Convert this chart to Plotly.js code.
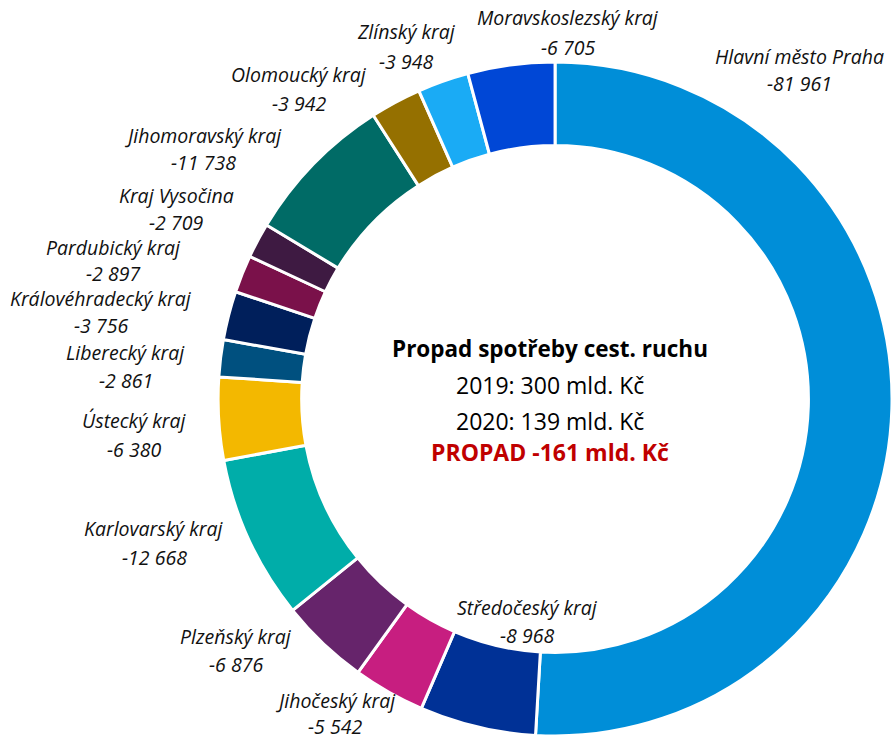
<!DOCTYPE html>
<html>
<head>
<meta charset="utf-8">
<script src="https://cdn.plot.ly/plotly-3.0.1.min.js"></script>
<style>html,body{margin:0;padding:0;background:#fff;}#chart{width:892px;height:740px;}</style>
</head>
<body>
<div id="chart"></div>
<script>
// Data (clockwise from 12 o'clock)
var regions = [
  "Hlavní město Praha", "Středočeský kraj", "Jihočeský kraj", "Plzeňský kraj",
  "Karlovarský kraj", "Ústecký kraj", "Liberecký kraj", "Královéhradecký kraj",
  "Pardubický kraj", "Kraj Vysočina", "Jihomoravský kraj", "Olomoucký kraj",
  "Zlínský kraj", "Moravskoslezský kraj"
];
var changes = [-81961, -8968, -5542, -6876, -12668, -6380, -2861, -3756,
               -2897, -2709, -11738, -3942, -3948, -6705];
var colors = ["#008ED8", "#003196", "#C71E80", "#66246B", "#00ADA9", "#F3B800",
              "#00507F", "#001F5B", "#7A114A", "#3E1A42", "#006B66", "#957000",
              "#1AABF5", "#0047D6"];
var centerTitle = "Propad spotřeby cest. ruchu";
var centerLines = ["2019: 300 mld. Kč", "2020: 139 mld. Kč"];
var centerDrop = "PROPAD -161 mld. Kč";

// Label placement (pixel centres of name line / value line)
var labelPos = [
  [799, 56, 84], [527, 607, 635], [335, 700, 726], [236, 636, 664],
  [154, 528, 557], [134, 420, 449], [126, 352, 380], [101, 298, 325],
  [113, 247, 273], [176, 196, 223], [203, 135, 163], [299, 75, 103],
  [406, 31, 61], [568, 18, 47]
];

var W = 892, H = 740;
function fmt(v) {
  var s = Math.abs(v).toString().replace(/\B(?=(\d{3})+(?!\d))/g, " ");
  return (v < 0 ? "-" : "") + s;
}
function px(x) { return x / W; }
function py(y) { return 1 - y / H; }

var annotations = [];
var lblFont = {family: "Open Sans, sans-serif", size: 19.5, color: "#111"};
regions.forEach(function (r, i) {
  var p = labelPos[i];
  annotations.push({xref: "paper", yref: "paper", x: px(p[0]), y: py(p[1]),
    xanchor: "center", yanchor: "middle", showarrow: false,
    text: "<i>" + r + "</i>", font: lblFont});
  annotations.push({xref: "paper", yref: "paper", x: px(p[0]), y: py(p[2]),
    xanchor: "center", yanchor: "middle", showarrow: false,
    text: "<i>" + fmt(changes[i]) + "</i>", font: lblFont});
});
var cx = 550;
annotations.push({xref: "paper", yref: "paper", x: px(cx), y: py(348), xanchor: "center", yanchor: "middle",
  showarrow: false, text: "<b>" + centerTitle + "</b>", font: {family: "Open Sans, sans-serif", size: 22.5, color: "#000"}});
annotations.push({xref: "paper", yref: "paper", x: px(cx), y: py(385), xanchor: "center", yanchor: "middle",
  showarrow: false, text: centerLines[0], font: {family: "Open Sans, sans-serif", size: 23, color: "#000"}});
annotations.push({xref: "paper", yref: "paper", x: px(cx), y: py(421), xanchor: "center", yanchor: "middle",
  showarrow: false, text: centerLines[1], font: {family: "Open Sans, sans-serif", size: 23, color: "#000"}});
annotations.push({xref: "paper", yref: "paper", x: px(cx), y: py(452), xanchor: "center", yanchor: "middle",
  showarrow: false, text: "<b>" + centerDrop + "</b>", font: {family: "Open Sans, sans-serif", size: 23, color: "#C00000"}});

var trace = {
  type: "pie",
  labels: regions,
  values: changes.map(function (v) { return Math.abs(v); }),
  sort: false,
  direction: "clockwise",
  rotation: 0,
  hole: 0.752,
  textinfo: "none",
  hoverinfo: "label+value",
  marker: {colors: colors, line: {color: "#ffffff", width: 3}},
  domain: {x: [0.2445, 1], y: [0.0054, 0.9162]},
  showlegend: false
};

var layout = {
  width: W, height: H,
  margin: {l: 0, r: 0, t: 0, b: 0},
  paper_bgcolor: "#ffffff",
  plot_bgcolor: "#ffffff",
  showlegend: false,
  annotations: annotations
};

Plotly.newPlot("chart", [trace], layout, {displayModeBar: false, staticPlot: true});
</script>
</body>
</html>
